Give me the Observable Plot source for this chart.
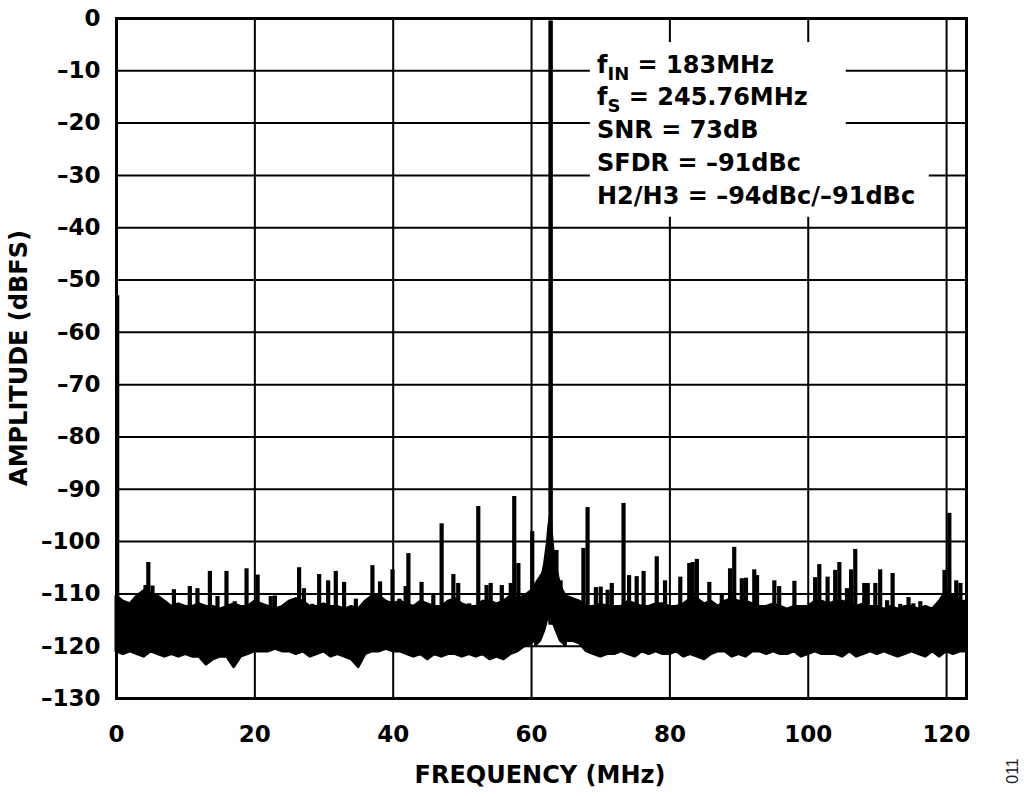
<!DOCTYPE html>
<html>
<head>
<meta charset="utf-8">
<script src="https://cdn.jsdelivr.net/npm/d3@7"></script>
<script src="https://cdn.jsdelivr.net/npm/@observablehq/plot@0.6"></script>
<style>
  html, body { margin: 0; padding: 0; background: #fff; }
  svg { display: block; }
</style>
</head>
<body>
<script>
// ---------- data ----------
const xTicks = [0, 20, 40, 60, 80, 100, 120];
const yTicks = [0, -10, -20, -30, -40, -50, -60, -70, -80, -90, -100, -110, -120, -130];

// noise floor envelope (1 MHz bins, last point at fs/2)
const noiseFreq = d3.range(0, 123).concat([122.88]);
const noiseTop = [
  -110.5, -111.5, -112, -110.5, -109.5, -110, -110.5, -111.5, -112.5, -112,
  -112.5, -112.5, -112, -112.5, -112.5, -113, -112.5, -112, -112.5, -112.5,
  -111.5, -112, -112.5, -113, -112.5, -111.5, -111, -111.5, -112.5, -112.5,
  -112, -112.5, -112.5, -113, -112.5, -113, -111.5, -110.5, -110.5, -111.5,
  -112, -111.5, -112, -112.5, -111.5, -112, -112.5, -112.5, -111.5, -111,
  -112, -112.5, -112.5, -111.5, -111.5, -112, -111.5, -110.5, -111, -110.5,
  -109.5, -107.5, -105.5, -105.5, -109.5, -110.5, -111, -111.5, -112.5, -112.5,
  -112, -112.5, -112.5, -112.5, -111.5, -112, -112.5, -112.5, -112, -112,
  -112.5, -112.5, -112, -111, -111, -112, -111.5, -112.5, -111.5, -111,
  -111.5, -111.5, -112, -112.5, -112.5, -112, -112.5, -113, -112.5, -112.5,
  -112.5, -111.5, -111.5, -112, -111.5, -111.5, -112, -112.5, -112, -112.5,
  -112.5, -113, -112.5, -113, -112.5, -112.5, -113, -112.5, -113, -111.5,
  -109.5, -110.5, -111.5, -111.5
];
const noiseBot = [
  -121, -121.5, -121, -121.5, -122, -121, -121.5, -122, -121.5, -122,
  -121.5, -122, -122, -123.5, -122.5, -122, -122, -124, -122, -121.5,
  -121, -121, -121, -120.5, -121, -121, -121.5, -121, -122, -121.5,
  -121, -122, -121.5, -122, -122.5, -124, -121.5, -121, -121, -120.5,
  -121, -121, -121.5, -122, -121.5, -122.5, -121.5, -122, -121.5, -121.5,
  -122, -121.5, -122, -121.5, -122.5, -122, -122.5, -121.5, -121, -120,
  -119.5, -118, -115, -115, -118, -119, -119, -119.5, -121, -121.5,
  -122, -121.5, -121.5, -121, -121.5, -122, -121, -121.5, -121, -121.5,
  -121.5, -121, -122, -121.5, -122, -122.5, -121.5, -121, -121, -122,
  -121.5, -122, -121, -121, -121.5, -121, -121.5, -121.5, -121, -122,
  -121.5, -121, -121.5, -121.5, -121.5, -122, -121, -122, -121.5, -121,
  -121.5, -121, -121.5, -122, -121.5, -121, -121.5, -122, -121, -122,
  -121, -121.5, -121, -121
];

// carrier skirt
const skirtFreq = [60.6, 61.3, 61.9, 62.3, 62.55, 62.76, 62.95, 63.2, 63.6, 64.2, 65.0];
const skirtTop  = [-110.5, -108.5, -104.5, -100.5, -97, -95, -98, -101.5, -105, -108.5, -110.5];
const skirtBot  = [-120, -119, -117, -115, -114, -113.5, -114, -115.5, -117, -119, -120];

// carrier and DC
const carrierFreq = 62.76, carrierLevel = -0.5;
const dcFreq = 0.15, dcLevel = -53;

// spurs (frequency MHz, peak dBFS)
const spurFreq = [
  4.2, 4.6, 5.2, 8.3, 10.6, 11.7, 13.5, 14.6, 15.9, 17.1, 18.8, 20.4,
  22.3, 22.9, 26.4, 27.1, 28.3, 29.3, 30.6, 31.7, 32.9, 34.6, 37.0, 38.1,
  39.9, 40.9, 41.8, 42.2, 44.1, 45.8, 47.0, 48.7, 49.4, 51.0, 52.3, 53.5,
  54.1, 55.7, 57.0, 57.5, 58.1, 60.1, 63.6, 64.2, 67.5, 68.1, 69.3, 70.0,
  71.0, 71.6, 73.3, 74.1, 75.2, 76.2, 78.1, 79.3, 81.5, 82.8, 83.3, 83.9,
  85.7, 87.5, 88.7, 89.3, 90.4, 91.0, 92.2, 92.6, 95.1, 95.8, 98.0, 101.0,
  101.6, 102.8, 103.9, 104.5, 105.6, 106.2, 106.8, 108.1, 108.6, 109.7, 110.4, 111.4,
  112.2, 113.3, 114.5, 115.2, 116.2, 119.7, 120.4, 121.4, 122.0
];
const spurLevel = [
  -108.4, -104.0, -108.5, -109.2, -108.6, -109, -105.7, -110.5, -105.7, -111.5, -105.2, -106.4,
  -110.5, -110.4, -105.0, -109, -112, -106.3, -107.5, -105.7, -107.8, -111, -104.6, -107.7,
  -105.4, -111, -108.6, -102.3, -107.8, -110, -96.6, -106.3, -108, -111.9, -93.3, -108.4,
  -108, -108.4, -108, -91.4, -104.2, -98.1, -101.7, -107.5, -101.3, -93.5, -108.8, -108.7,
  -109.3, -108, -92.7, -106.5, -106.7, -105.7, -102.9, -107.5, -106.8, -104.2, -104, -103.4,
  -107.8, -110, -105.2, -101.1, -107.1, -107, -105.4, -106.5, -107.5, -108.6, -107.6, -106.9,
  -104.4, -106.8, -105.5, -104, -109, -105.4, -101.5, -108, -108, -108, -105.4, -111.3,
  -106.1, -112, -110.7, -111.9, -111.5, -105.5, -94.6, -107.5, -108
];

const annoLines = [
  ["f", "IN", " = 183MHz"],
  ["f", "S", " = 245.76MHz"],
  ["SNR = 73dB"],
  ["SFDR = \u201391dBc"],
  ["H2/H3 = \u201394dBc/\u201391dBc"]
];

// ---------- build tables ----------
const noise = noiseFreq.map((f, i) => ({f, hi: noiseTop[i], lo: noiseBot[i]}));
const skirt = skirtFreq.map((f, i) => ({f, hi: skirtTop[i], lo: skirtBot[i]}));
const spurs = spurFreq.map((f, i) => ({f, v: spurLevel[i]}));
const peaks = [{f: carrierFreq, v: carrierLevel, w: 4.5}, {f: dcFreq, v: dcLevel, w: 3.5}];
const fmt = d => d === 0 ? "0" : "\u2013" + Math.abs(d);
const FONT = "DejaVu Sans";

const chart = Plot.plot({
  width: 1024,
  height: 797,
  marginLeft: 116,
  marginRight: 58,
  marginTop: 18,
  marginBottom: 99,
  style: {fontFamily: FONT, background: "white", color: "black"},
  x: {domain: [0, 122.88]},
  y: {domain: [-130, 0]},
  marks: [
    Plot.ruleX(xTicks, {stroke: "black", strokeWidth: 2}),
    Plot.ruleY(yTicks, {stroke: "black", strokeWidth: 2}),
    Plot.rect([{a: 68.5, b: 105.5, c: -4.6, d: -38}, {a: 105.4, b: 117.5, c: -22, d: -38}],
      {x1: "a", x2: "b", y1: "c", y2: "d", fill: "white"}),
    Plot.areaY(noise, {x: "f", y1: "lo", y2: "hi", fill: "black", stroke: "black", strokeWidth: 3}),
    Plot.areaY(skirt, {x: "f", y1: "lo", y2: "hi", fill: "black", stroke: "black", strokeWidth: 2.5}),
    Plot.ruleX(spurs, {x: "f", y1: -116, y2: "v", stroke: "black", strokeWidth: 4.2}),
    Plot.ruleX(peaks, {x: "f", y1: -116, y2: "v", stroke: "black", strokeWidth: "w"}),
    Plot.frame({stroke: "black", strokeWidth: 3}),
    Plot.axisX({ticks: xTicks, tickSize: 0, tickPadding: 27, fontSize: 23, fontWeight: "bold", label: null, tickFormat: d => String(d)}),
    Plot.axisY({ticks: yTicks, tickSize: 0, tickPadding: 16, fontSize: 23, fontWeight: "bold", label: null, tickFormat: fmt})
  ]
});
document.body.appendChild(chart);

const svg = d3.select(chart);
const g = svg.append("g").attr("font-family", FONT).attr("font-weight", "bold").attr("fill", "black");
g.append("text").attr("x", 540).attr("y", 783).attr("text-anchor", "middle").attr("font-size", 24)
  .text("FREQUENCY (MHz)");
g.append("text").attr("transform", "translate(27,358) rotate(-90)").attr("text-anchor", "middle")
  .attr("font-size", 24).text("AMPLITUDE (dBFS)");
svg.append("text").attr("transform", "translate(1018,771) rotate(-90)").attr("text-anchor", "middle")
  .attr("font-family", "Liberation Sans").attr("font-size", 16).attr("fill", "#222").text("011");

const baselines = [73, 105, 138, 171, 204];
annoLines.forEach((parts, i) => {
  const t = g.append("text").attr("x", 597).attr("y", baselines[i]).attr("font-size", 24)
    .attr("text-anchor", "start");
  if (parts.length === 1) {
    t.append("tspan").text(parts[0]);
  } else {
    t.append("tspan").text(parts[0]);
    t.append("tspan").attr("font-size", 18).attr("dy", 7).text(parts[1]);
    t.append("tspan").attr("dy", -7).text(parts[2]);
  }
});
</script>
</body>
</html>
